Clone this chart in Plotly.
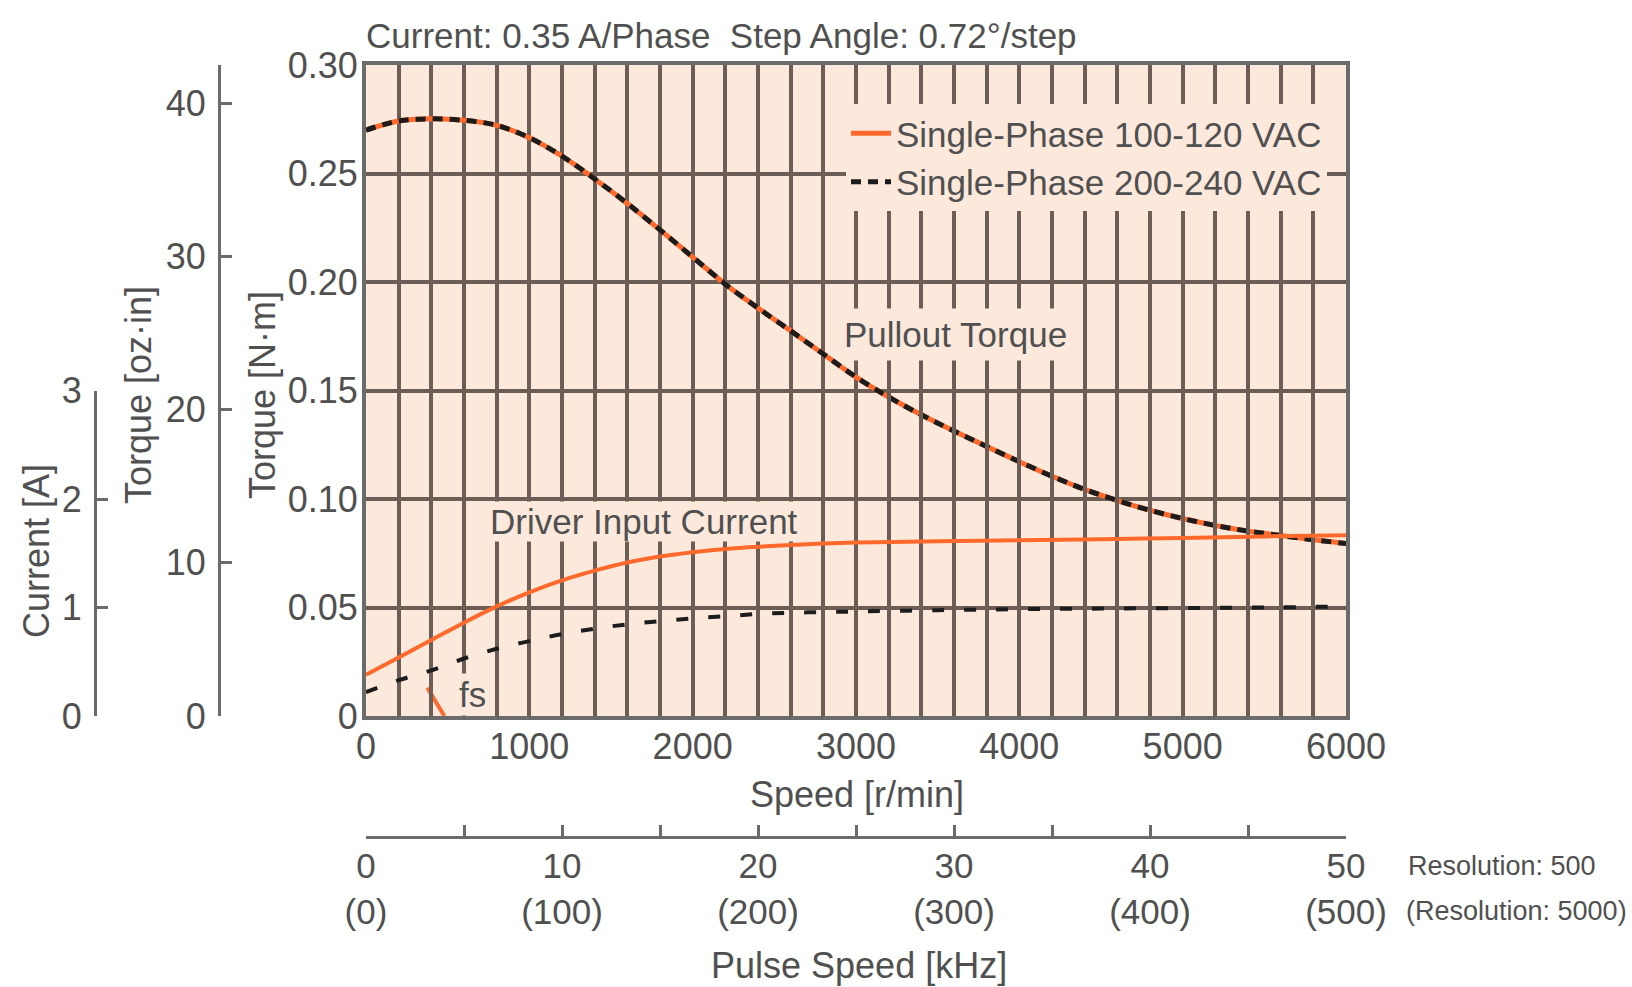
import plotly.graph_objects as go

# ---------------- data ----------------
speed_rpm = [0, 200, 400, 600, 800, 1000, 1200, 1400, 1600, 1800, 2000, 2200, 2400, 2600, 2800,
             3000, 3200, 3400, 3600, 3800, 4000, 4200, 4400, 4600, 4800, 5000, 5200, 5400, 5600,
             5800, 6000]
torque_100_120 = [0.2700, 0.2742, 0.2752, 0.2745, 0.2722, 0.2665, 0.2580, 0.2475, 0.2362, 0.2240,
                  0.2115, 0.1990, 0.1880, 0.1775, 0.1668, 0.1562, 0.1470, 0.1388, 0.1313, 0.1242,
                  0.1172, 0.1105, 0.1044, 0.0993, 0.0948, 0.0910, 0.0878, 0.0852, 0.0832, 0.0812,
                  0.0795]
torque_200_240 = [0.2700, 0.2742, 0.2752, 0.2745, 0.2722, 0.2665, 0.2580, 0.2475, 0.2362, 0.2240,
                  0.2115, 0.1990, 0.1880, 0.1775, 0.1668, 0.1562, 0.1470, 0.1388, 0.1313, 0.1242,
                  0.1172, 0.1105, 0.1044, 0.0993, 0.0948, 0.0910, 0.0878, 0.0852, 0.0832, 0.0812,
                  0.0795]

current_speed_rpm = [0, 200, 400, 600, 800, 1000, 1200, 1400, 1600, 1800, 2000, 2200, 2400, 2600,
                     2800, 3000, 3500, 4000, 4500, 5000, 5500, 6000]
current_100_120 = [0.38, 0.54, 0.70, 0.86, 1.01, 1.14, 1.25, 1.34, 1.415, 1.47, 1.51, 1.54, 1.56,
                   1.575, 1.59, 1.60, 1.61, 1.62, 1.63, 1.64, 1.655, 1.665]
current_200_240 = [0.22, 0.33, 0.42, 0.53, 0.62, 0.69, 0.755, 0.805, 0.845, 0.875, 0.90, 0.92,
                   0.94, 0.952, 0.958, 0.963, 0.975, 0.985, 0.99, 0.995, 1.0, 1.01]

fs_speed = [375, 480]
fs_torque = [0.013, 0.0]

speed_ticks = [0, 1000, 2000, 3000, 4000, 5000, 6000]
torque_nm_ticks = [0, 0.05, 0.10, 0.15, 0.20, 0.25, 0.30]
torque_nm_labels = ["0", "0.05", "0.10", "0.15", "0.20", "0.25", "0.30"]
torque_ozin_ticks = [0, 10, 20, 30, 40]
current_ticks = [0, 1, 2, 3]
pulse_khz_ticks = [0, 10, 20, 30, 40, 50]
pulse_khz_res5000 = [0, 100, 200, 300, 400, 500]

NM_PER_OZIN = 0.00706155

# ---------------- style ----------------
W, H = 1632, 987
FONT = "Liberation Sans, Arial, Helvetica, sans-serif"
TXT = "#505050"
AX = "#6b6b6b"
GRID = "#6c5d57"
BG = "#fde9dc"
ORANGE = "#ff6a2c"
BLACK = "#1c1c1c"
FS = 36


def px(xp):
    return xp / W


def py(yp):
    return 1 - yp / H


x_dom = [px(366), px(1346)]
y_dom = [py(716), py(65)]
y3_dom = [y_dom[0], y_dom[0] + (y_dom[1] - y_dom[0]) / 2]

fig = go.Figure()

# pullout torque
fig.add_trace(go.Scatter(x=speed_rpm, y=torque_100_120, mode="lines", name="Single-Phase 100-120 VAC",
                         line=dict(color=ORANGE, width=5, shape="spline"), hoverinfo="skip"))
fig.add_trace(go.Scatter(x=speed_rpm, y=torque_200_240, mode="lines", name="Single-Phase 200-240 VAC",
                         line=dict(color=BLACK, width=5, dash="10px,7px", shape="spline"), hoverinfo="skip"))
# driver input current
fig.add_trace(go.Scatter(x=current_speed_rpm, y=current_100_120, mode="lines", showlegend=False,
                         xaxis="x", yaxis="y3", line=dict(color=ORANGE, width=4, shape="spline"),
                         hoverinfo="skip"))
fig.add_trace(go.Scatter(x=current_speed_rpm, y=current_200_240, mode="lines", showlegend=False,
                         xaxis="x", yaxis="y3", line=dict(color=BLACK, width=4, dash="12px,20px", shape="spline"),
                         hoverinfo="skip"))
# fs marker
fig.add_trace(go.Scatter(x=fs_speed, y=fs_torque, mode="lines", showlegend=False,
                         line=dict(color=ORANGE, width=4), hoverinfo="skip"))
# helper traces so the extra axes are drawn
fig.add_trace(go.Scatter(x=[0, 50], y=[None, None], xaxis="x2", yaxis="y", showlegend=False,
                         hoverinfo="skip"))
fig.add_trace(go.Scatter(x=[None, None], y=[0, 40], xaxis="x", yaxis="y2", showlegend=False,
                         hoverinfo="skip"))

fig.update_layout(
    width=W, height=H,
    margin=dict(l=0, r=0, t=0, b=0, autoexpand=False),
    paper_bgcolor="white",
    plot_bgcolor="rgba(0,0,0,0)",
    font=dict(family=FONT, size=FS, color=TXT),
    showlegend=True,
    legend=dict(x=px(846), y=py(104), xanchor="left", yanchor="top", bgcolor=BG,
                font=dict(size=35, color=TXT), borderwidth=0, tracegroupgap=0,
                itemwidth=40),
    xaxis=dict(domain=x_dom, range=[0, 6000], tickvals=speed_ticks,
               ticktext=[str(v) for v in speed_ticks], ticks="", showgrid=True,
               gridcolor=GRID, gridwidth=4, zeroline=False, showline=True, mirror=True,
               linecolor=AX, linewidth=4, ticklabelstandoff=-4,
               minor=dict(dtick=200, showgrid=True, gridcolor=GRID, gridwidth=4, ticks=""),
               anchor="y"),
    yaxis=dict(domain=y_dom, range=[0, 0.30], tickvals=torque_nm_ticks, ticktext=torque_nm_labels,
               ticks="", showgrid=True, gridcolor=GRID, gridwidth=4, zeroline=False,
               showline=True, mirror=True, linecolor=AX, linewidth=4, ticklabelstandoff=-3,
               anchor="x"),
    yaxis2=dict(overlaying="y", anchor="free", position=px(219), side="left",
                range=[0, 0.30 / NM_PER_OZIN], tickvals=torque_ozin_ticks,
                ticktext=[str(v) for v in torque_ozin_ticks], ticks="inside", ticklen=11,
                tickwidth=3, tickcolor=AX, showline=True, linecolor=AX, linewidth=3,
                showgrid=False, zeroline=False, ticklabelstandoff=5),
    yaxis3=dict(domain=y3_dom, anchor="free", position=px(95), side="left", range=[0, 3],
                tickvals=current_ticks, ticktext=[str(v) for v in current_ticks],
                ticks="inside", ticklen=11, tickwidth=3, tickcolor=AX, showline=True,
                linecolor=AX, linewidth=3, showgrid=False, zeroline=False, ticklabelstandoff=5),
    xaxis2=dict(overlaying="x", anchor="free", position=py(837), side="bottom", range=[0, 50],
                tickvals=pulse_khz_ticks,
                ticktext=[f"{a}<br>({b})" for a, b in zip(pulse_khz_ticks, pulse_khz_res5000)],
                ticks="inside", ticklen=11, tickwidth=3, tickcolor=AX, showline=True,
                linecolor=AX, linewidth=3, showgrid=False, zeroline=False,
                tickfont=dict(size=35), ticklabelstandoff=-3,
                minor=dict(dtick=5, ticks="inside", ticklen=11, tickwidth=3, tickcolor=AX,
                           showgrid=False)),
    shapes=[dict(type="rect", xref="paper", yref="paper", x0=x_dom[0], x1=x_dom[1],
                 y0=y_dom[0], y1=y_dom[1], fillcolor=BG, line=dict(width=0), layer="below")],
)

ann = []
ann.append(dict(text="Current: 0.35 A/Phase  Step Angle: 0.72°/step", xref="paper", yref="paper",
                x=px(364), y=py(35), xanchor="left", yanchor="middle", showarrow=False,
                font=dict(size=35, color=TXT)))
ann.append(dict(text="Torque [N·m]", xref="paper", yref="paper", x=px(262), y=py(395),
                xanchor="center", yanchor="middle", textangle=-90, showarrow=False))
ann.append(dict(text="Torque [oz·in]", xref="paper", yref="paper", x=px(138), y=py(395),
                xanchor="center", yanchor="middle", textangle=-90, showarrow=False))
ann.append(dict(text="Current [A]", xref="paper", yref="paper", x=px(36), y=py(551),
                xanchor="center", yanchor="middle", textangle=-90, showarrow=False))
ann.append(dict(text="Speed [r/min]", xref="paper", yref="paper", x=px(857), y=py(794),
                xanchor="center", yanchor="middle", showarrow=False))
ann.append(dict(text="Pulse Speed [kHz]", xref="paper", yref="paper", x=px(859), y=py(965),
                xanchor="center", yanchor="middle", showarrow=False))
ann.append(dict(text="Resolution: 500", xref="paper", yref="paper", x=px(1406), y=py(866),
                xanchor="left", yanchor="middle", showarrow=False,
                font=dict(size=27, color=TXT)))
ann.append(dict(text="(Resolution: 5000)", xref="paper", yref="paper", x=px(1404), y=py(911),
                xanchor="left", yanchor="middle", showarrow=False,
                font=dict(size=27, color=TXT)))
ann.append(dict(text="Pullout Torque", xref="x", yref="y", x=3612, y=0.1756,
                xanchor="center", yanchor="middle", showarrow=False, bgcolor=BG, borderpad=6,
                font=dict(size=35, color=TXT)))
ann.append(dict(text="Driver Input Current", xref="x", yref="y", x=1700, y=0.0898,
                xanchor="center", yanchor="middle", showarrow=False, bgcolor=BG, borderpad=0,
                font=dict(size=35, color=TXT)))
ann.append(dict(text="fs", xref="x", yref="y", x=655, y=0.0097,
                xanchor="center", yanchor="middle", showarrow=False, bgcolor=BG, borderpad=1,
                font=dict(size=35, color=TXT)))
fig.update_layout(annotations=ann)

fig.write_html("out.html", config={"displayModeBar": False},
               post_script="document.body.style.margin='0';document.body.style.overflow='hidden';")
